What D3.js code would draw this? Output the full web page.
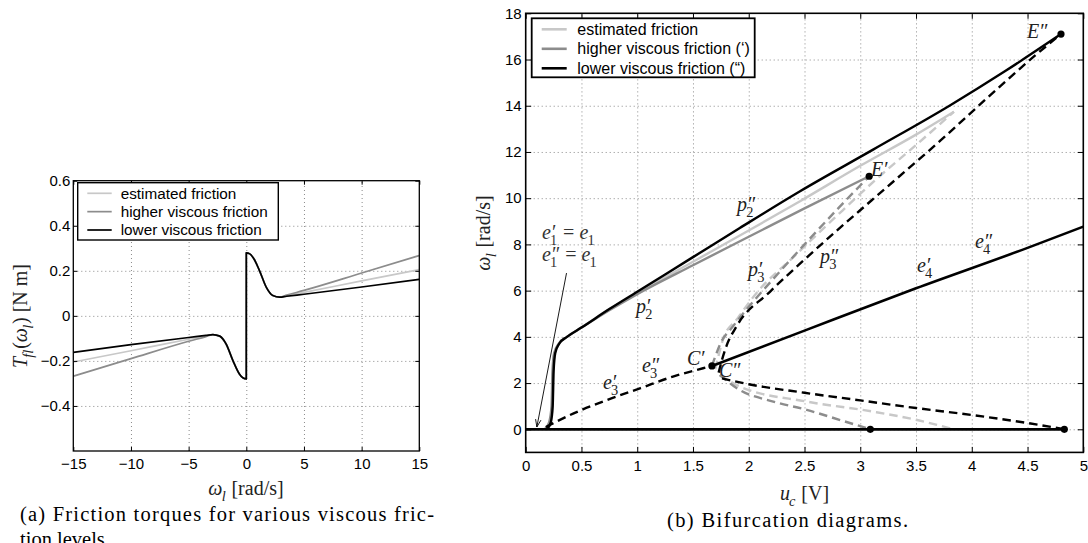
<!DOCTYPE html>
<html><head><meta charset="utf-8">
<script src="https://cdn.jsdelivr.net/npm/d3@7"></script>
<style>body{margin:0;background:#fff} svg{display:block}</style>
</head><body>
<svg id="chart" width="1088" height="543"></svg>
<script>
// ---------------- (a) friction torques ----------------
const frictionW         = [-15, -10, -5, -3.5, -2.9, -2.3, -1.75, -1.15, -0.6, -0.3, -0.001, 0.001, 0.3, 0.6, 1.15, 1.75, 2.3, 2.9, 3.5, 5, 10, 15];
const frictionEstimated = [-0.205, -0.155, -0.104, -0.089, -0.083, -0.09, -0.125, -0.2, -0.258, -0.275, -0.28, 0.28, 0.275, 0.258, 0.2, 0.125, 0.09, 0.083, 0.089, 0.104, 0.155, 0.205];
const frictionHigher    = [-0.268, -0.19, -0.113, -0.092, -0.083, -0.09, -0.125, -0.2, -0.258, -0.275, -0.28, 0.28, 0.275, 0.258, 0.2, 0.125, 0.09, 0.083, 0.092, 0.113, 0.19, 0.268];
const frictionLower     = [-0.162, -0.128, -0.096, -0.087, -0.083, -0.09, -0.125, -0.2, -0.258, -0.275, -0.28, 0.28, 0.275, 0.258, 0.2, 0.125, 0.09, 0.083, 0.087, 0.096, 0.128, 0.162];
const frictionLegend    = ["estimated friction", "higher viscous friction", "lower viscous friction"];
const leftXTicks = [-15, -10, -5, 0, 5, 10, 15];
const leftYTicks = [-0.4, -0.2, 0, 0.2, 0.4, 0.6];

// ---------------- (b) bifurcation diagrams ----------------
// stable upper branches (solid)
const estUpperU    = [0.18, 0.22, 0.24, 0.248, 0.262, 0.3, 0.37, 0.5, 0.75, 1.0, 1.5, 2.0, 2.46, 3.0, 3.5, 3.84];
const estUpperW    = [0, 0.3, 1.0, 2.5, 3.3, 3.7, 4.0, 4.4, 5.2, 5.9, 7.25, 8.6, 9.87, 11.4, 12.75, 13.74];
const higherUpperU = [0.17, 0.21, 0.232, 0.24, 0.255, 0.295, 0.37, 0.5, 0.75, 1.0, 1.5, 2.0, 2.5, 3.08];
const higherUpperW = [0, 0.3, 1.0, 2.5, 3.3, 3.7, 4.0, 4.4, 5.15, 5.85, 7.1, 8.33, 9.56, 10.95];
const lowerUpperU  = [0.19, 0.225, 0.242, 0.25, 0.265, 0.3, 0.37, 0.5, 0.75, 1.0, 1.5, 1.92, 2.46, 3.115, 3.8, 4.3, 4.80];
const lowerUpperW  = [0, 0.3, 1.0, 2.5, 3.3, 3.7, 4.0, 4.4, 5.2, 5.95, 7.45, 8.71, 10.3, 12.1, 14.0, 15.5, 17.1];
// unstable upper branches p3 (dashed)
const estP3U    = [1.70, 1.73, 1.77, 1.9, 2.07, 2.4, 2.76, 3.15, 3.5, 3.84];
const estP3W    = [2.6, 3.2, 3.9, 4.8, 5.9, 7.45, 9.1, 10.85, 12.3, 13.74];
const higherP3U = [1.67, 1.70, 1.75, 1.85, 2.0, 2.2, 2.5, 2.8, 3.08];
const higherP3W = [2.74, 3.15, 3.75, 4.4, 5.3, 6.4, 8.0, 9.55, 10.95];
const lowerP3U  = [1.73, 1.76, 1.80, 1.89, 2.19, 2.49, 2.79, 3.1, 3.72, 4.13, 4.55, 4.80];
const lowerP3W  = [2.45, 3.0, 3.6, 4.45, 5.95, 7.3, 8.6, 9.9, 12.5, 14.3, 16.1, 17.1];
// unstable lower branches (dashed, down to zero)
const estLowU    = [1.74, 1.92, 2.52, 3.12, 3.51, 3.835];
const estLowW    = [2.35, 1.85, 1.2, 0.76, 0.4, 0];
const higherLowU = [1.74, 1.92, 2.22, 2.52, 2.82, 3.09];
const higherLowW = [2.35, 1.7, 1.2, 0.84, 0.4, 0];
const lowerLowU  = [1.76, 2.0, 2.5, 3.0, 3.5, 4.0, 4.5, 4.83];
const lowerLowW  = [2.2, 1.95, 1.58, 1.25, 0.92, 0.62, 0.27, 0];
// equilibria e3 (dashed), e4 (solid), e1 (solid on zero)
const e3U = [0.18, 0.43, 0.73, 1.03, 1.32, 1.59, 1.67];
const e3W = [0.1, 0.69, 1.27, 1.78, 2.28, 2.64, 2.74];
const e4U = [1.67, 2.5, 3.5, 4.5, 5.0];
const e4W = [2.74, 4.27, 6.1, 7.85, 8.77];
const e1U = [0, 4.83];
const e1W = [0, 0];
// marked points
const dotU = [1.67, 3.08, 4.80, 3.09, 4.83];
const dotW = [2.74, 10.95, 17.1, 0, 0];
// annotation arrow (from text to e1)
const arrowU = [0.366, 0.1];
const arrowW = [6.76, 0.1];
const bifLegend = ["estimated friction", "higher viscous friction (\u2018)", "lower viscous friction (\u201C)"];
const rightXTicks = [0, 0.5, 1, 1.5, 2, 2.5, 3, 3.5, 4, 4.5, 5];
const rightYTicks = [0, 2, 4, 6, 8, 10, 12, 14, 16, 18];

const COLORS = ["#c8c8c8", "#8c8c8c", "#000000"];
const SANS = "'Liberation Sans', Arial, Helvetica, sans-serif";
const SERIF = "'Liberation Serif', 'Times New Roman', serif";

const svg = d3.select("#chart");
const zip = (a, b) => a.map((v, i) => [v, b[i]]);
const fmtMinus = s => s.replace("-", "\u2212");

function mathLabel(parent, x, y, tokens, size, color) {
  const g = parent.append("g").attr("fill", color || "#222").style("font-family", SERIF);
  let cx = x;
  tokens.forEach(tok => {
    const t = g.append("text").attr("x", cx).attr("y", y)
      .attr("font-size", size).attr("font-style", tok.it ? "italic" : "normal")
      .style("white-space", "pre").text(tok.t);
    cx += t.node().getComputedTextLength();
    let extra = 0;
    if (tok.sup) {
      const s = g.append("text").attr("x", cx + size * 0.05).attr("y", y + size * 0.02)
        .attr("font-size", size).text(tok.sup);
      extra = s.node().getComputedTextLength() + size * 0.05;
    }
    if (tok.sub) {
      const s = g.append("text").attr("x", cx - (tok.it ? size * 0.04 : 0)).attr("y", y + size * 0.28)
        .attr("font-size", size * 0.72).attr("font-style", tok.subIt ? "italic" : "normal").text(tok.sub);
      extra = Math.max(extra, s.node().getComputedTextLength());
    }
    cx += extra;
  });
  return { g, width: cx - x };
}

function drawFrame(g, x, y, xTicks, yTicks) {
  const [x0, x1] = x.range(), [y0, y1] = y.range();
  const H = y0 - y1, W = x1 - x0;
  g.append("g").attr("transform", `translate(0,${y0})`)
    .call(d3.axisBottom(x).tickValues(xTicks.filter(t => t !== x.domain()[0] && t !== x.domain()[1])).tickSize(-H).tickFormat(""))
    .call(a => a.select(".domain").remove())
    .selectAll("line").attr("stroke", "#8a8a8a").attr("stroke-dasharray", "1,3");
  g.append("g").attr("transform", `translate(${x0},0)`)
    .call(d3.axisLeft(y).tickValues(yTicks.filter(t => t !== y.domain()[0] && t !== y.domain()[1])).tickSize(-W).tickFormat(""))
    .call(a => a.select(".domain").remove())
    .selectAll("line").attr("stroke", "#8a8a8a").attr("stroke-dasharray", "1,3");
}

function drawAxes(g, x, y, xTicks, yTicks, xFmt, yFmt, opts) {
  const [x0, x1] = x.range(), [y0, y1] = y.range();
  const tl = opts.tick;
  const styleAxis = a => {
    a.select(".domain").remove();
    a.selectAll("line").attr("stroke", "#000").attr("stroke-width", 1);
    a.selectAll("text").attr("fill", "#000").style("font-family", SANS).style("font-size", opts.font + "px");
  };
  g.append("g").attr("transform", `translate(0,${y0})`)
    .call(d3.axisBottom(x).tickValues(xTicks).tickSize(-tl).tickPadding(opts.xPad).tickFormat(xFmt)).call(styleAxis);
  g.append("g").attr("transform", `translate(0,${y1})`)
    .call(d3.axisTop(x).tickValues(xTicks).tickSize(-tl).tickFormat("")).call(styleAxis);
  g.append("g").attr("transform", `translate(${x0},0)`)
    .call(d3.axisLeft(y).tickValues(yTicks).tickSize(-tl).tickPadding(opts.yPad).tickFormat(yFmt)).call(styleAxis);
  g.append("g").attr("transform", `translate(${x1},0)`)
    .call(d3.axisRight(y).tickValues(yTicks).tickSize(-tl).tickFormat("")).call(styleAxis);
  g.append("rect").attr("x", x0).attr("y", y1).attr("width", x1 - x0).attr("height", y0 - y1)
    .attr("fill", "none").attr("stroke", "#000").attr("stroke-width", opts.box);
}

// ================= panel (a) =================
const xa = d3.scaleLinear().domain([-15, 15]).range([73.3, 419.3]);
const ya = d3.scaleLinear().domain([-0.6, 0.6]).range([451, 180.7]);
const ga = svg.append("g");
drawFrame(ga, xa, ya, leftXTicks, leftYTicks);
const lineA = d3.line().x(d => xa(d[0])).y(d => ya(d[1])).curve(d3.curveMonotoneX);
[frictionEstimated, frictionHigher, frictionLower].forEach((s, i) => {
  ga.append("path").attr("d", lineA(zip(frictionW, s))).attr("fill", "none")
    .attr("stroke", COLORS[i]).attr("stroke-width", 1.7).attr("stroke-linejoin", "round");
});
drawAxes(ga, xa, ya, leftXTicks, leftYTicks,
  d => fmtMinus(String(d)),
  d => d === 0 ? "0" : fmtMinus(d3.format(".1f")(d)),
  { tick: 4, xPad: 7, yPad: 3, font: 15, box: 1.3 });
// legend (a)
const lga = ga.append("g");
lga.append("rect").attr("x", 77.7).attr("y", 182.7).attr("width", 200.6).attr("height", 57.3)
  .attr("fill", "#fff").attr("stroke", "#000").attr("stroke-width", 1.4);
frictionLegend.forEach((lab, i) => {
  const yy = 193.3 + i * 18.35;
  lga.append("line").attr("x1", 87.3).attr("x2", 111.7).attr("y1", yy).attr("y2", yy)
    .attr("stroke", COLORS[i]).attr("stroke-width", 1.7);
  lga.append("text").attr("x", 120.7).attr("y", yy).attr("dy", "0.35em")
    .style("font-family", SANS).style("font-size", "15.3px").text(lab);
});
// labels (a)
{
  const lx = mathLabel(svg, 0, 0, [{ t: "ω", it: 1, sub: "l", subIt: 1 }, { t: " [rad/s]" }], 20);
  lx.g.attr("transform", `translate(${246 - lx.width / 2},495)`);
  const ly = mathLabel(svg, 0, 0, [{ t: "T", it: 1, sub: "fl", subIt: 1 }, { t: "(" }, { t: "ω", it: 1, sub: "l", subIt: 1 }, { t: ")" }, { t: " [N m]" }], 20);
  ly.g.attr("transform", `translate(27,316) rotate(-90) translate(${-ly.width / 2},0)`);
}
svg.append("text").attr("x", 20).attr("y", 521).attr("textLength", 414).attr("lengthAdjust", "spacing")
  .style("font-family", SERIF).style("font-size", "20.5px").text("(a) Friction torques for various viscous fric-");
svg.append("text").attr("x", 20).attr("y", 546)
  .style("font-family", SERIF).style("font-size", "20.5px").text("tion levels.");

// ================= panel (b) =================
const xb = d3.scaleLinear().domain([0, 5]).range([525.7, 1083.3]);
const yb = d3.scaleLinear().domain([-1, 18]).range([452.4, 13.3]);
const gb = svg.append("g");
drawFrame(gb, xb, yb, rightXTicks, rightYTicks);
const lineB = d3.line().x(d => xb(d[0])).y(d => yb(d[1])).curve(d3.curveMonotoneX);
const LW = 2.4, DASH = "8.5,5";
function path(u, w, color, dashed, width) {
  gb.append("path").attr("d", lineB(zip(u, w))).attr("fill", "none")
    .attr("stroke", color).attr("stroke-width", width || LW)
    .attr("stroke-dasharray", dashed ? DASH : null).attr("stroke-linejoin", "round");
}
// light gray (estimated)
path(estUpperU, estUpperW, COLORS[0], false);
path(estP3U, estP3W, COLORS[0], true);
path(estLowU, estLowW, COLORS[0], true);
// gray (higher)
path(higherUpperU, higherUpperW, COLORS[1], false);
path(higherP3U, higherP3W, COLORS[1], true);
path(higherLowU, higherLowW, COLORS[1], true);
// black (lower)
path(lowerUpperU, lowerUpperW, COLORS[2], false);
path(lowerP3U, lowerP3W, COLORS[2], true);
path(lowerLowU, lowerLowW, COLORS[2], true);
path(e3U, e3W, "#000", true);
path(e4U, e4W, "#000", false, 2.6);
path(e1U, e1W, "#000", false, 2.8);
// dots
gb.selectAll("circle.pt").data(zip(dotU, dotW)).enter().append("circle")
  .attr("cx", d => xb(d[0])).attr("cy", d => yb(d[1])).attr("r", 3.6).attr("fill", "#000");
// annotation arrow
{
  const a = zip(arrowU, arrowW).map(d => [xb(d[0]), yb(d[1])]);
  gb.append("line").attr("x1", a[0][0]).attr("y1", a[0][1]).attr("x2", a[1][0]).attr("y2", a[1][1])
    .attr("stroke", "#000").attr("stroke-width", 0.9);
  const ang = Math.atan2(a[1][1] - a[0][1], a[1][0] - a[0][0]);
  [0.35, -0.35].forEach(da => {
    gb.append("line").attr("x1", a[1][0]).attr("y1", a[1][1])
      .attr("x2", a[1][0] - 8 * Math.cos(ang + da)).attr("y2", a[1][1] - 8 * Math.sin(ang + da))
      .attr("stroke", "#000").attr("stroke-width", 0.9);
  });
}
drawAxes(gb, xb, yb, rightXTicks, rightYTicks,
  d => d3.format("~g")(d), d => String(d),
  { tick: 5.5, xPad: 7.5, yPad: 4, font: 15, box: 1.6 });
// legend (b)
const lgb = gb.append("g");
lgb.append("rect").attr("x", 531.7).attr("y", 18.3).attr("width", 223).attr("height", 59)
  .attr("fill", "#fff").attr("stroke", "#000").attr("stroke-width", 1.8);
bifLegend.forEach((lab, i) => {
  const yy = 29.3 + i * 19.5;
  lgb.append("line").attr("x1", 541.7).attr("x2", 566.7).attr("y1", yy).attr("y2", yy)
    .attr("stroke", COLORS[i]).attr("stroke-width", 2.6);
  lgb.append("text").attr("x", 577.3).attr("y", yy).attr("dy", "0.35em")
    .style("font-family", SANS).style("font-size", "16px").text(lab);
});
// math annotations (b)
const P = "\u2032", PP = "\u2033";
mathLabel(svg, 1027, 38, [{ t: "E", it: 1, sup: PP }], 20);
mathLabel(svg, 871, 176, [{ t: "E", it: 1, sup: P }], 20);
mathLabel(svg, 737, 211, [{ t: "p", it: 1, sup: PP, sub: "2" }], 20);
mathLabel(svg, 748, 276, [{ t: "p", it: 1, sup: P, sub: "3" }], 20);
mathLabel(svg, 820, 263, [{ t: "p", it: 1, sup: PP, sub: "3" }], 20);
mathLabel(svg, 636, 313, [{ t: "p", it: 1, sup: P, sub: "2" }], 20);
mathLabel(svg, 687, 365, [{ t: "C", it: 1, sup: P }], 20);
mathLabel(svg, 719, 377, [{ t: "C", it: 1, sup: PP }], 20);
mathLabel(svg, 642, 372, [{ t: "e", it: 1, sup: PP, sub: "3" }], 20);
mathLabel(svg, 603, 389, [{ t: "e", it: 1, sup: P, sub: "3" }], 20);
mathLabel(svg, 917, 272, [{ t: "e", it: 1, sup: P, sub: "4" }], 20);
mathLabel(svg, 975, 248, [{ t: "e", it: 1, sup: PP, sub: "4" }], 20);
mathLabel(svg, 542, 239, [{ t: "e", it: 1, sup: P, sub: "1" }, { t: " = " }, { t: "e", it: 1, sub: "1" }], 20, "#333");
mathLabel(svg, 542, 261, [{ t: "e", it: 1, sup: PP, sub: "1" }, { t: " = " }, { t: "e", it: 1, sub: "1" }], 20, "#333");
// axis labels (b)
{
  const lx = mathLabel(svg, 0, 0, [{ t: "u", it: 1, sub: "c", subIt: 1 }, { t: " [V]" }], 20);
  lx.g.attr("transform", `translate(${804.5 - lx.width / 2},500)`);
  const ly = mathLabel(svg, 0, 0, [{ t: "ω", it: 1, sub: "l", subIt: 1 }, { t: " [rad/s]" }], 20);
  ly.g.attr("transform", `translate(490,233) rotate(-90) translate(${-ly.width / 2},0)`);
}
svg.append("text").attr("x", 667).attr("y", 527).attr("textLength", 241).attr("lengthAdjust", "spacing")
  .style("font-family", SERIF).style("font-size", "20.5px").text("(b) Bifurcation diagrams.");
</script>
</body></html>
